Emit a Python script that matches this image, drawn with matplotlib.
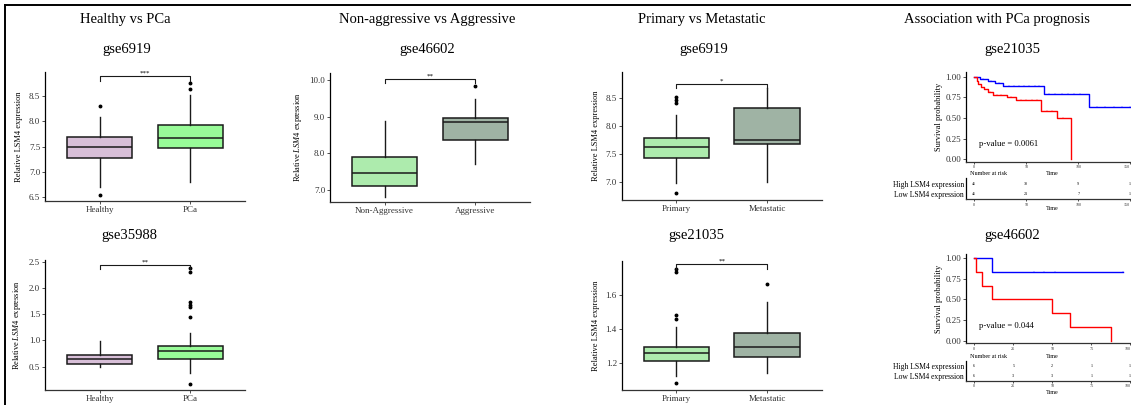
import matplotlib
matplotlib.use("Agg")
import matplotlib.pyplot as plt
from matplotlib.lines import Line2D
import numpy as np

plt.rcParams['font.family'] = ['Liberation Serif', 'DejaVu Serif']
plt.rcParams['mathtext.fontset'] = 'custom'
plt.rcParams['mathtext.rm'] = 'Liberation Serif'
plt.rcParams['mathtext.it'] = 'Liberation Serif:italic'

W, H = 1131, 405

# ---------------- box plot data: [whislo, q1, median, q3, whishi] ----------------
hp6919_groups = ["Healthy", "PCa"]
hp6919_summary = [[6.70, 7.28, 7.50, 7.69, 8.08], [6.79, 7.47, 7.68, 7.93, 8.52]]
hp6919_fliers = [[8.30, 6.53], [8.64, 8.76]]
hp6919_sig = (8.90, "***")

hp35988_groups = ["Healthy", "PCa"]
hp35988_summary = [[0.50, 0.55, 0.64, 0.72, 0.98], [0.37, 0.65, 0.79, 0.90, 1.14]]
hp35988_fliers = [[], [0.17, 1.45, 1.63, 1.68, 1.73, 2.31, 2.37]]
hp35988_sig = (2.44, "**")

agg46602_groups = ["Non-Aggressive", "Aggressive"]
agg46602_summary = [[6.80, 7.11, 7.45, 7.91, 8.88], [7.71, 8.36, 8.86, 8.95, 9.47]]
agg46602_fliers = [[], [9.84]]
agg46602_sig = (10.03, "**")

met6919_groups = ["Primary", "Metastatic"]
met6919_summary = [[6.99, 7.44, 7.62, 7.78, 8.20], [7.00, 7.68, 7.76, 8.32, 8.67]]
met6919_fliers = [[6.81, 8.41, 8.46, 8.51], []]
met6919_sig = (8.75, "*")

met21035_groups = ["Primary", "Metastatic"]
met21035_summary = [[1.122, 1.21, 1.255, 1.294, 1.412], [1.138, 1.232, 1.294, 1.373, 1.559]]
met21035_fliers = [[1.079, 1.455, 1.48, 1.735, 1.749], [1.661]]
met21035_sig = (1.78, "**")

# ---------------- Kaplan-Meier data ----------------
km21035_high_time = [0, 5.4, 12.7, 19.7, 27.7, 67.5, 110.0, 152.0]
km21035_high_surv = [1.00, 0.97, 0.95, 0.92, 0.885, 0.79, 0.635, 0.635]
km21035_high_censor = [8, 16, 24, 33, 38, 43, 48, 53, 58, 62, 72, 78, 84, 90, 96, 102, 118, 126, 134, 142, 150]
km21035_low_time = [0, 2.2, 3.8, 6.0, 9.2, 13.4, 18.0, 31.0, 40.0, 63.7, 80.0, 93.0]
km21035_low_surv = [1.00, 0.95, 0.91, 0.88, 0.85, 0.81, 0.78, 0.75, 0.72, 0.59, 0.50, 0.0]
km21035_low_censor = [15, 22, 26, 35, 45, 50, 55, 60, 70, 75, 85]
km21035_risk_times = [0, 50, 100, 150]
km21035_high_risk = [46, 38, 9, 1]
km21035_low_risk = [46, 21, 7, 1]
km21035_pvalue = "p-value = 0.0061"

km46602_high_time = [0, 11.5, 95.5]
km46602_high_surv = [1.00, 0.833, 0.833]
km46602_high_censor = [38.2, 44.9, 51.7, 95.5]
km46602_low_time = [0, 0.9, 4.7, 11.5, 50.0, 61.3, 87.6]
km46602_low_surv = [1.00, 0.833, 0.667, 0.50, 0.333, 0.167, 0.0]
km46602_low_censor = []
km46602_risk_times = [0, 25, 50, 75, 100]
km46602_high_risk = [6, 5, 2, 1, 1]
km46602_low_risk = [6, 3, 3, 1, 1]
km46602_pvalue = "p-value = 0.044"

# ---------------- colours ----------------
col_healthy = "#D8BFD8"
col_pca = "#98FB98"
col_light_green = "#ADEBAD"
col_grey_green = "#9FB3A4"
ink = "#1a1a1a"

fig = plt.figure(figsize=(W / 100, H / 100), dpi=100)


def px_axes(l, t, r, b):
    return fig.add_axes([l / W, 1 - b / H, (r - l) / W, (b - t) / H])


def fig_text(x, y, s, **kw):
    fig.text(x / W, 1 - y / H, s, **kw)


def style_axes(ax, labelsize=6.5):
    for side in ("top", "right"):
        ax.spines[side].set_visible(False)
    ax.spines["left"].set_linewidth(0.9)
    ax.spines["bottom"].set_linewidth(0.9)
    ax.spines["left"].set_color("black")
    ax.spines["bottom"].set_color("#333333")
    ax.tick_params(length=2, width=0.6, labelsize=labelsize, pad=1.5, colors="#333333")
    ax.set_facecolor("none")


def box_panel(ax, groups, summary, fliers, colors, sig, ylim, yticks, ylabel):
    stats = []
    for g, s, f in zip(groups, summary, fliers):
        stats.append(dict(label=g, whislo=s[0], q1=s[1], med=s[2], q3=s[3], whishi=s[4], fliers=f))
    bp = ax.bxp(stats, positions=[1, 2], widths=0.72, patch_artist=True, showcaps=False,
                boxprops=dict(edgecolor=ink, linewidth=1.1),
                medianprops=dict(color=ink, linewidth=1.1),
                whiskerprops=dict(color=ink, linewidth=1.0),
                flierprops=dict(marker="o", markersize=1.8, markerfacecolor="black",
                                markeredgecolor="black"))
    for patch, c in zip(bp["boxes"], colors):
        patch.set_facecolor(c)
    ax.set_xlim(0.4, 2.6)
    ax.set_ylim(*ylim)
    ax.set_yticks(yticks)
    ax.set_yticklabels([f"{v:.1f}" for v in yticks])
    style_axes(ax)
    ax.set_ylabel(ylabel, fontsize=6, labelpad=4)
    yb, lab = sig
    tip = 0.035 * (ylim[1] - ylim[0])
    ax.plot([1, 1, 2, 2], [yb - tip, yb, yb, yb - tip], color=ink, lw=0.8, clip_on=False)
    ax.text(1.5, yb, lab, ha="center", va="bottom", fontsize=5)


def step_value(times, surv, t):
    idx = np.searchsorted(np.asarray(times), t, side="right") - 1
    return np.asarray(surv)[np.clip(idx, 0, len(surv) - 1)]


def fit_last_xlabel(ax):
    # keep the right-most tick label inside the canvas
    labels = ax.get_xticklabels()
    if labels:
        labels[-1].set_horizontalalignment("right")


def km_panel(ax, curves, xlim, ylim, xticks, pvalue):
    for times, surv, censor, color in curves:
        ax.step(times, surv, where="post", color=color, lw=1.0)
        if censor:
            ax.plot(censor, step_value(times, surv, censor), ls="none", marker="|",
                    markersize=1.6, color=color, markeredgewidth=0.35, alpha=0.7)
    ax.set_xlim(*xlim)
    ax.set_ylim(*ylim)
    ax.set_yticks([0, 0.25, 0.5, 0.75, 1.0])
    ax.set_yticklabels(["0.00", "0.25", "0.50", "0.75", "1.00"])
    ax.set_xticks(xticks)
    ax.set_xticklabels([str(v) for v in xticks])
    style_axes(ax, labelsize=6.5)
    ax.tick_params(axis="x", labelsize=3, length=1.5, pad=1)
    fit_last_xlabel(ax)
    ax.set_ylabel("Survival probability", fontsize=6, labelpad=2)
    ax.text(0.08, 0.2, pvalue, transform=ax.transAxes, fontsize=6.2, ha="left", va="center")


def risk_table(ax, times, high, low, xlim, ylim):
    ax.set_xlim(*xlim)
    ax.set_ylim(*ylim)
    for t, h, l in zip(times, high, low):
        ha = "right" if t == times[-1] else "center"
        ax.text(t, 1, str(h), ha=ha, va="center", fontsize=3)
        ax.text(t, 0, str(l), ha=ha, va="center", fontsize=3)
    ax.set_yticks([1, 0])
    ax.set_yticklabels(["High LSM4 expression", "Low LSM4 expression"])
    ax.set_xticks(times)
    ax.set_xticklabels([str(v) for v in times])
    style_axes(ax)
    ax.tick_params(axis="y", length=0, labelsize=5.5, pad=1.5, colors="black")
    ax.tick_params(axis="x", labelsize=3, length=1.5, pad=1)
    fit_last_xlabel(ax)


# ---------------- frame ----------------
fig.add_artist(Line2D([4.5 / W, 1.0], [1 - 4.5 / H] * 2, transform=fig.transFigure,
                      color="black", lw=1.4))
fig.add_artist(Line2D([4.5 / W] * 2, [0.0, 1 - 4.5 / H], transform=fig.transFigure,
                      color="black", lw=1.4))

# ---------------- headers ----------------
for x, s in [(125, "Healthy vs PCa"), (427, "Non-aggressive vs Aggressive"),
             (702, "Primary vs Metastatic"), (997, "Association with PCa prognosis")]:
    fig_text(x, 20, s, ha="center", va="center", fontsize=10.5)
for x, y, s in [(127, 50, "gse6919"), (129, 236, "gse35988"), (427, 50, "gse46602"),
                (704, 50, "gse6919"), (696, 236, "gse21035"), (1012, 50, "gse21035"),
                (1012, 235, "gse46602")]:
    fig_text(x, y, s, ha="center", va="center", fontsize=10.5)

# ---------------- box panels ----------------
ax1 = px_axes(45, 72, 245, 201)
box_panel(ax1, hp6919_groups, hp6919_summary, hp6919_fliers, [col_healthy, col_pca],
          hp6919_sig, (6.42, 8.98), [6.5, 7.0, 7.5, 8.0, 8.5], "Relative LSM4 expression")

ax2 = px_axes(45, 260, 245, 390)
box_panel(ax2, hp35988_groups, hp35988_summary, hp35988_fliers, [col_healthy, col_pca],
          hp35988_sig, (0.055, 2.53), [0.5, 1.0, 1.5, 2.0, 2.5],
          r"Relative $\it{LSM4}$ expression")

ax3 = px_axes(330, 73, 530, 201.7)
box_panel(ax3, agg46602_groups, agg46602_summary, agg46602_fliers,
          [col_light_green, col_grey_green], agg46602_sig, (6.68, 10.19),
          [7.0, 8.0, 9.0, 10.0], r"Relative $\it{LSM4}$ expression")

ax4 = px_axes(621.7, 71.7, 821.7, 200)
box_panel(ax4, met6919_groups, met6919_summary, met6919_fliers,
          [col_light_green, col_grey_green], met6919_sig, (6.69, 8.96),
          [7.0, 7.5, 8.0, 8.5], "Relative LSM4 expression")

ax5 = px_axes(621.7, 260.7, 821.7, 390)
box_panel(ax5, met21035_groups, met21035_summary, met21035_fliers,
          [col_light_green, col_grey_green], met21035_sig, (1.039, 1.80),
          [1.2, 1.4, 1.6], "Relative LSM4 expression")

# ---------------- survival panels ----------------
km1 = px_axes(966, 71.7, 1131, 161.7)
km_panel(km1, [(km21035_high_time, km21035_high_surv, km21035_high_censor, "#0000FF"),
               (km21035_low_time, km21035_low_surv, km21035_low_censor, "#FF0000")],
         (-8, 150.7), (-0.029, 1.06), km21035_risk_times, km21035_pvalue)
fig_text(970, 174, "Number at risk", ha="left", va="center", fontsize=4.4)
fig_text(1052, 174, "Time", ha="center", va="center", fontsize=4.4)
rt1 = px_axes(966, 178, 1131, 199.3)
risk_table(rt1, km21035_risk_times, km21035_high_risk, km21035_low_risk,
           (-8, 150.7), (-0.53, 1.6))
fig_text(1052, 208, "Time", ha="center", va="center", fontsize=4.4)

km2 = px_axes(966, 254.3, 1131, 343.3)
km_panel(km2, [(km46602_high_time, km46602_high_surv, km46602_high_censor, "#0000FF"),
               (km46602_low_time, km46602_low_surv, km46602_low_censor, "#FF0000")],
         (-5.3, 100.4), (-0.032, 1.049), km46602_risk_times, km46602_pvalue)
fig_text(970, 356.7, "Number at risk", ha="left", va="center", fontsize=4.4)
fig_text(1052, 356.7, "Time", ha="center", va="center", fontsize=4.4)
rt2 = px_axes(966, 361, 1131, 380.7)
risk_table(rt2, km46602_risk_times, km46602_high_risk, km46602_low_risk,
           (-5.3, 100.4), (-0.515, 1.515))
fig_text(1052, 392.7, "Time", ha="center", va="center", fontsize=4.4)

fig.savefig("out.png", dpi=100)
